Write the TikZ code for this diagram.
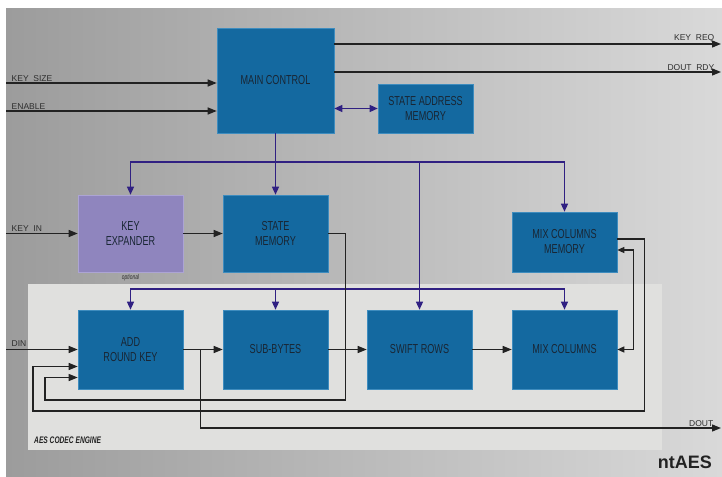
\documentclass[tikz,border=0pt]{standalone}
\usepackage{fontspec}
\setmainfont{Liberation Sans}
\newfontfamily\narrowfont[FakeStretch=0.7]{Liberation Sans}
\usepackage{tikz}
\usetikzlibrary {arrows.meta,
                 calc,
                 positioning}
\definecolor{boxblue}{RGB}{20,105,160}
\definecolor{boxedge}{RGB}{62,140,190}
\definecolor{keylav}{RGB}{143,133,190}
\definecolor{keyedge}{RGB}{172,164,212}
\definecolor{buspurple}{RGB}{48,32,130}
\definecolor{wire}{RGB}{34,34,34}
\definecolor{panel}{RGB}{224,224,222}
\definecolor{bgleft}{RGB}{156,156,156}
\definecolor{bgright}{RGB}{217,217,217}
\definecolor{boxtext}{RGB}{25,38,52}
\definecolor{labeltext}{RGB}{45,45,45}
\tikzset{
        base/.style={draw, align=center, text=boxtext, line width=0.6pt,
                     font=\narrowfont\fontsize{13}{15}\selectfont},
        blk/.style={base, rectangle, fill=boxblue, draw=boxedge,
                    minimum width=105pt, minimum height=79pt},
        keyblk/.style={blk, fill=keylav, draw=keyedge, minimum height=77pt},
        sig/.style={inner sep=1.5pt, text=labeltext,
                    font=\fontsize{8.5}{10}\selectfont},
        opt/.style={inner sep=1pt, text=labeltext,
                    font=\narrowfont\itshape\fontsize{7}{8}\selectfont},
        eng/.style={inner sep=0pt, text=wire,
                    font=\narrowfont\bfseries\itshape\fontsize{9.5}{11}\selectfont},
        ttl/.style={inner sep=0pt, text=wire,
                    font=\bfseries\fontsize{18}{20}\selectfont},
        myarrow/.style={-{Triangle[length=9pt, width=7pt]}, line width=1.3pt,
                        draw=wire},
        bothway/.style={{Triangle[length=7pt, width=6pt]}-{Triangle[length=7pt, width=6pt]},
                        line width=1.3pt, draw=wire},
        busarrow/.style={-{Triangle[length=8pt, width=7pt]}, line width=1.3pt,
                         draw=buspurple},
        busboth/.style={{Triangle[length=8pt, width=7pt]}-{Triangle[length=8pt, width=7pt]},
                        line width=1.3pt, draw=buspurple},
 }
\begin{document}
\begin{tikzpicture}[x=1pt, y=-1pt]
    \useasboundingbox (0,0) rectangle (722,476);
    \shade[left color=bgleft, right color=bgright] (6,9) rectangle (722,476);
    \fill[panel] (28,284) rectangle (662,450);

    \node[blk, minimum width=117pt, minimum height=105pt] (a) at (275.5,80.5) {MAIN CONTROL};
    \node[blk, minimum width=95pt, minimum height=49pt] (b) at (425.5,108.5) {STATE ADDRESS\\MEMORY};
    \node[keyblk] (c) at (130.5,233.5) {KEY\\EXPANDER};
    \node[blk, minimum height=77pt] (d) at (275.5,233.5) {STATE\\MEMORY};
    \node[blk, minimum height=60pt] (e) at (564.5,242) {MIX COLUMNS\\MEMORY};
    \node[blk] (f) at (130.5,349.5) {ADD\\ROUND KEY};
    \node[blk] (g) at (275.5,349.5) {SUB-BYTES};
    \node[blk] (h) at (419.5,349.5) {SWIFT ROWS};
    \node[blk] (i) at (564.5,349.5) {MIX COLUMNS};

    \coordinate (ks) at (6,83);
    \coordinate (en) at (6,111);
    \coordinate (kr) at (721,44);
    \coordinate (dr) at (721,72);
    \coordinate (ki) at (6,233.5);
    \coordinate (din) at (6,349.5);
    \coordinate (do) at (721,428);
    \coordinate (bt) at (0,162);
    \coordinate (bb) at (0,289);

    \node[sig, anchor=south west] (lks) at ([xshift=4pt]ks) {KEY\ \ SIZE};
    \node[sig, anchor=south west] (len) at ([xshift=4pt]en) {ENABLE};
    \node[sig, anchor=south east] (lkr) at ([xshift=-5pt]kr) {KEY\ \ REQ};
    \node[sig, anchor=south east] (ldr) at ([xshift=-5pt]dr) {DOUT\ \ RDY};
    \node[sig, anchor=south west] (lki) at ([xshift=4pt]ki) {KEY\ \ IN};
    \node[sig, anchor=south west] (ldin) at ([xshift=4pt,yshift=1pt]din) {DIN};
    \node[sig, anchor=south east] (ldo) at ([xshift=-6pt]do) {DOUT};
    \node[opt, below=1pt of c] (o) {optional};
    \node[eng, anchor=west] (l) at (34,440) {AES CODEC ENGINE};
    \node[ttl, anchor=east] (n) at (712,462) {ntAES};

    \draw[myarrow] (ks) -- (ks -| a.west);
    \draw[myarrow] (en) -- (en -| a.west);
    \draw[myarrow] (kr -| a.east) -- (kr);
    \draw[myarrow] (dr -| a.east) -- (dr);
    \draw[busboth] (a.east |- b.west) -- (b.west);

    \draw[busarrow] (a.south) -- (d.north);
    \draw[busarrow] (a.south |- bt) -| (c.north);
    \draw[busarrow] (a.south |- bt) -| (e.north);
    \draw[busarrow] (h.north |- bt) -- (h.north);
    \draw[busarrow] (h.north |- bb) -| (f.north);
    \draw[busarrow] (g.north |- bb) -- (g.north);
    \draw[busarrow] (h.north |- bb) -| (i.north);

    \draw[myarrow] (ki) -- (ki -| c.west);
    \draw[myarrow] (c) -- (d);
    \draw[myarrow] (din) -- (din -| f.west);
    \draw[myarrow] (f) -- (g);
    \draw[myarrow] (g) -- (h);
    \draw[myarrow] (h) -- (i);
    \draw[myarrow] ([xshift=17pt]f.east) |- (do);
    \draw[myarrow] (d.east) -- ++(17,0) |- (45,400) |- ([yshift=-28pt]f.west);
    \draw[myarrow] ([yshift=3pt]e.east) -- ++(27,0) |- (33,411) |- ([yshift=-17pt]f.west);
    \draw[bothway] (i.east) -- ++(16,0) |- ([yshift=-8pt]e.east);

\end{tikzpicture}
\end{document}
